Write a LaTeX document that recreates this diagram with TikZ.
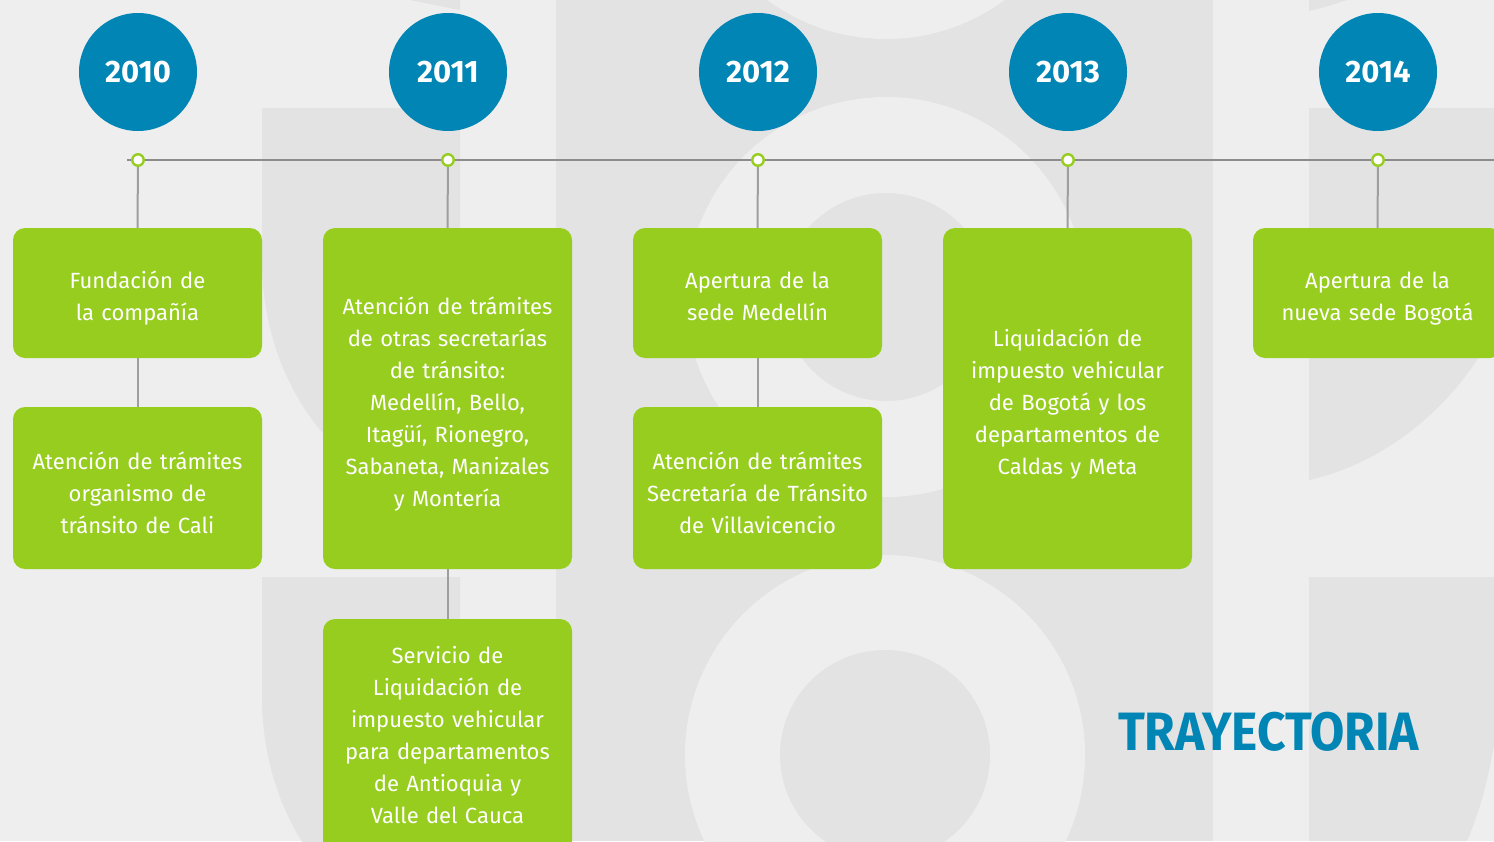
\documentclass[tikz,border=0pt]{standalone}
\usepackage{fontspec}
\setmainfont{Fira Sans}
\definecolor{bgl}{HTML}{EEEEEE}
\definecolor{bgd}{HTML}{E3E3E3}
\definecolor{tblue}{HTML}{0085B4}
\definecolor{tgreen}{HTML}{97CD1F}
\definecolor{tline}{HTML}{8C8C8C}
\definecolor{tconn}{HTML}{9E9E9E}
\newcommand\tstrut{\rule{0pt}{31pt}}
\newcommand\bstrut[1][8pt]{\rule[-#1]{0pt}{#1}}
\begin{document}
\begin{tikzpicture}[x=1pt,y=-1pt,
  year/.style={circle,fill=tblue,minimum size=118pt,inner sep=0pt,text=white,font=\fontsize{31}{31}\selectfont\bfseries},
  tdot/.style={circle,draw=tgreen,fill=white,line width=2.4pt,minimum size=11.5pt,inner sep=0pt},
  gbox/.style={rectangle,rounded corners=12pt,fill=tgreen,minimum width=249pt,text width=240pt,align=center,inner sep=0pt,text=white,font=\fontsize{22}{32}\selectfont},
  tlinestyle/.style={draw=tline,line width=1.3pt},
  conn/.style={draw=tconn,line width=2pt},
  title/.style={text=tblue,font=\fontsize{54}{54}\selectfont\bfseries,inner sep=0pt}]
\useasboundingbox (0,0) rectangle (1494,841);
\begin{scope}
\clip (0,0) rectangle (1494,841);
\fill[bgl] (0,0) rectangle (1494,841);
\fill[bgd] (556,0) rectangle (1213,841);
\fill[bgl] (886,-161) circle (200);
\fill[bgl] (886,297) circle (200);
\fill[bgd] (886,297) circle (104);
\fill[bgl] (885,755) circle (200);
\fill[bgd] (885,755) circle (105);
\fill[bgd] (262,108) -- (460,108) -- (460,500) .. controls (350.6,500) and (262,392.5) .. (262,260) -- cycle;
\fill[bgd] (262,577) -- (460,577) -- (460,937) .. controls (350.6,937) and (262,829.5) .. (262,697) -- cycle;
\fill[bgd] (460,0) -- (460,10) .. controls (440,6) and (425,3) .. (410,0) -- cycle;
\fill[bgd] (1309,108) -- (1494,108) -- (1494,330) .. controls (1460,400) and (1390,462) .. (1309,480) -- cycle;
\fill[bgd] (1309,0) -- (1309,11) .. controls (1322,8) and (1335,4) .. (1347,0) -- cycle;
\fill[bgd] (1309,577) -- (1494,577) -- (1494,745) .. controls (1486,790) and (1478,815) .. (1467,841) -- (1309,841) -- cycle;
\end{scope}
% years
\node[year] (y10) at (138,72) {2010};
\node[year] (y11) at (448,72) {2011};
\node[year] (y12) at (758,72) {2012};
\node[year] (y13) at (1068,72) {2013};
\node[year] (y14) at (1378,72) {2014};
% timeline
\coordinate (tlstart) at (127,160);
\coordinate (tlend) at (1494,160);
\draw[tlinestyle] (tlstart) -- (tlend);
% boxes
\node[gbox,minimum height=130pt] (b10a) at (137.5,293) {\tstrut Fundación de\\la compañía\bstrut};
\node[gbox,minimum height=162pt] (b10b) at (137.5,488) {\tstrut Atención de trámites\\organismo de\\tránsito de Cali\bstrut[4pt]};
\node[gbox,minimum height=341pt] (b11a) at (447.5,398.5) {\tstrut Atención de trámites\\de otras secretarías\\de tránsito:\\Medellín, Bello,\\Itagüí, Rionegro,\\Sabaneta, Manizales\\y Montería\bstrut};
\node[gbox,minimum height=234pt] (b11b) at (447.5,736) {\tstrut Servicio de\\Liquidación de\\impuesto vehicular\\para departamentos\\de Antioquia y\\Valle del Cauca\bstrut[16pt]};
\node[gbox,minimum height=130pt] (b12a) at (757.5,293) {\tstrut Apertura de la\\sede Medellín\bstrut};
\node[gbox,minimum height=162pt] (b12b) at (757.5,488) {\tstrut Atención de trámites\\Secretaría de Tránsito\\de Villavicencio\bstrut[4pt]};
\node[gbox,minimum height=341pt] (b13) at (1067.5,398.5) {\tstrut Liquidación de\\impuesto vehicular\\de Bogotá y los\\departamentos de\\Caldas y Meta\bstrut};
\node[gbox,minimum height=130pt] (b14) at (1377.5,293) {\tstrut Apertura de la\\nueva sede Bogotá\bstrut};
% connectors
\draw[conn] (138,160) -- (b10a.north);
\draw[conn] (b10a.south) -- (b10b.north);
\draw[conn] (448,160) -- (b11a.north);
\draw[conn] (b11a.south) -- (b11b.north);
\draw[conn] (758,160) -- (b12a.north);
\draw[conn] (b12a.south) -- (b12b.north);
\draw[conn] (1068,160) -- (b13.north);
\draw[conn] (1378,160) -- (b14.north);
% dots
\node[tdot] (d10) at (138,160) {};
\node[tdot] (d11) at (448,160) {};
\node[tdot] (d12) at (758,160) {};
\node[tdot] (d13) at (1068,160) {};
\node[tdot] (d14) at (1378,160) {};
% title
\node[title,anchor=base] (ttl) at (1268.5,750) {\scalebox{0.92}[1]{TRAYECTORIA}};
\end{tikzpicture}
\end{document}
